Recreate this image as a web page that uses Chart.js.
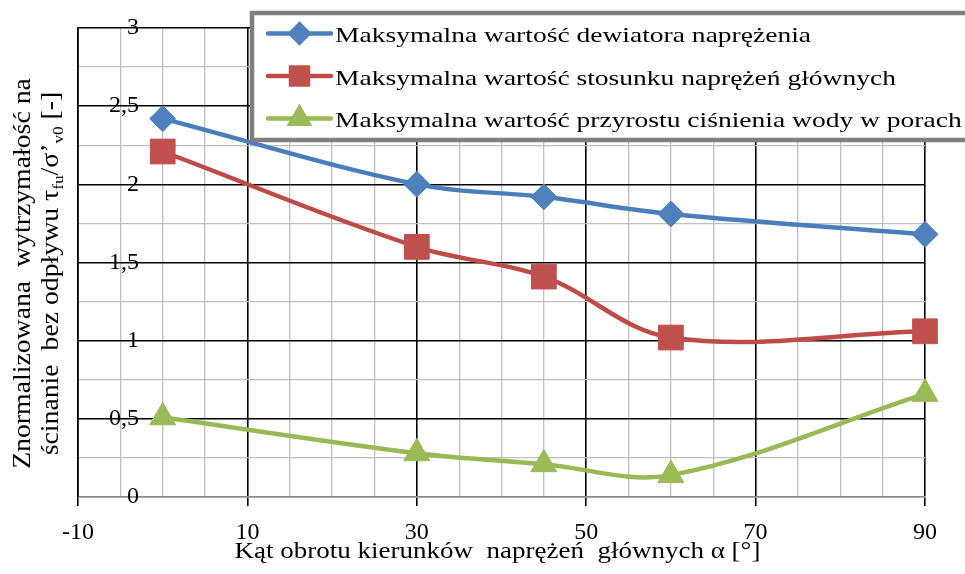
<!DOCTYPE html>
<html>
<head>
<meta charset="utf-8">
<script src="https://cdn.jsdelivr.net/npm/chart.js"></script>
<style>
  body { margin: 0; background: #fff; }
  canvas { display: block; }
</style>
</head>
<body>
<canvas id="myChart" width="965" height="574"></canvas>
<script>
// data
var angles = [0, 30, 45, 60, 90];
var dewiator = [2.42, 2.0, 1.92, 1.81, 1.68];
var stosunek = [2.21, 1.6, 1.41, 1.02, 1.06];
var cisnienie = [0.51, 0.28, 0.21, 0.14, 0.66];
var seriesNames = [
  'Maksymalna wartość dewiatora naprężenia',
  'Maksymalna wartość stosunku naprężeń głównych',
  'Maksymalna wartość przyrostu ciśnienia wody w porach'
];
var xTitle = 'Kąt obrotu kierunków  naprężeń  głównych α [°]';
// y title, second element = subscript
var yTitle1 = [['Znormalizowana  wytrzymałość na', false]];
var yTitle2 = [['ścinanie  bez odpływu τ', false], ['fu', true], ['/σ’', false], ['v0', true], [' [-]', false]];

var FONT = '"Liberation Serif", "Times New Roman", serif';

function toPoints(values) {
  return values.map(function (v, i) { return { x: angles[i], y: v }; });
}

// draws text runs centred on (0,0), baseline at 0, stretched along the text
function drawRuns(ctx, runs, size, stretch) {
  var total = 0;
  runs.forEach(function (r) {
    ctx.font = (r[1] ? size * 0.62 : size) + 'px ' + FONT;
    total += ctx.measureText(r[0]).width;
  });
  ctx.scale(stretch, 1);
  var x = -total / 2;
  ctx.textAlign = 'left';
  ctx.textBaseline = 'alphabetic';
  runs.forEach(function (r) {
    ctx.font = (r[1] ? size * 0.62 : size) + 'px ' + FONT;
    ctx.fillText(r[0], x, r[1] ? size * 0.2 : 0);
    x += ctx.measureText(r[0]).width;
  });
}

var overlay = {
  id: 'overlay',
  afterDraw: function (chart) {
    var ctx = chart.ctx;
    var area = chart.chartArea;
    ctx.save();
    ctx.fillStyle = '#000';

    // x axis title
    ctx.save();
    ctx.translate((area.left + area.right) / 2 - 4, 558);
    drawRuns(ctx, [[xTitle, false]], 22.5, 1.2);
    ctx.restore();

    // y axis title, two lines
    var midY = (area.top + area.bottom) / 2;
    ctx.save();
    ctx.translate(30, midY + 11);
    ctx.rotate(-Math.PI / 2);
    drawRuns(ctx, yTitle1, 25, 1.11);
    ctx.restore();
    ctx.save();
    ctx.translate(58, midY + 11);
    ctx.rotate(-Math.PI / 2);
    drawRuns(ctx, yTitle2, 25, 1.11);
    ctx.restore();

    // legend box on top of the plot
    ctx.fillStyle = '#fff';
    ctx.fillRect(252, 13, 730, 127);
    ctx.strokeStyle = '#7f7f7f';
    ctx.lineWidth = 4.5;
    ctx.strokeRect(252, 13, 730, 127);

    chart.data.datasets.forEach(function (ds, i) {
      var rowY = 33.5 + i * 42.5;
      ctx.strokeStyle = ds.borderColor;
      ctx.lineWidth = 4.5;
      ctx.lineCap = 'round';
      ctx.beginPath();
      ctx.moveTo(268, rowY);
      ctx.lineTo(331, rowY);
      ctx.stroke();
      ctx.fillStyle = ds.pointBackgroundColor;
      ctx.strokeStyle = ds.pointBackgroundColor;
      Chart.helpers.drawPoint(ctx, {
        pointStyle: ds.pointStyle,
        radius: ds.legendRadius,
        rotation: 0,
        borderWidth: 1
      }, 299.5, rowY);
      ctx.fillStyle = '#000';
      ctx.save();
      ctx.translate(335, rowY + 8.5);
      ctx.scale(1.28, 1);
      ctx.font = '21.5px ' + FONT;
      ctx.textAlign = 'left';
      ctx.textBaseline = 'alphabetic';
      ctx.fillText(ds.label, 0, 0);
      ctx.restore();
    });
    ctx.restore();
  }
};

function series(label, values, line, fill, style, radius, legendRadius) {
  return {
    label: label,
    data: toPoints(values),
    borderColor: line,
    backgroundColor: fill,
    borderWidth: 4.5,
    tension: 0.35,
    clip: false,
    pointStyle: style,
    pointRadius: radius,
    pointHoverRadius: radius,
    pointBackgroundColor: fill,
    pointBorderColor: fill,
    pointBorderWidth: 1,
    legendRadius: legendRadius
  };
}

var ctx = document.getElementById('myChart');
var myChart = new Chart(ctx, {
  type: 'line',
  data: {
    datasets: [
      series(seriesNames[0], dewiator, '#4a7ebb', '#4f81bd', 'rectRot', 13, 9),
      series(seriesNames[1], stosunek, '#be4b48', '#c0504d', 'rect', 17.5, 12),
      series(seriesNames[2], cisnienie, '#98b954', '#9bbb59', 'triangle', 15, 10.5)
    ]
  },
  options: {
    responsive: false,
    animation: false,
    layout: { padding: { top: 28, right: 40, left: 0, bottom: 0 } },
    plugins: {
      legend: { display: false },
      tooltip: { enabled: false }
    },
    scales: {
      x: {
        type: 'linear',
        min: -10,
        max: 90,
        afterFit: function (scale) { scale.height = 77; },
        ticks: {
          stepSize: 5,
          autoSkip: false,
          maxRotation: 0,
          padding: 12,
          color: '#000',
          font: { family: FONT, size: 24 },
          callback: function (v) { return (v + 10) % 20 === 0 ? String(v) : ''; }
        },
        grid: {
          color: function (c) { return (c.tick.value + 10) % 20 === 0 ? '#000' : '#bfbfbf'; },
          lineWidth: function (c) { return (c.tick.value + 10) % 20 === 0 ? 1.6 : 1.3; },
          tickColor: function (c) { return (c.tick.value + 10) % 20 === 0 ? '#000' : 'rgba(0,0,0,0)'; },
          tickLength: 9
        },
        border: { color: '#8c8c8c', width: 1.6 }
      },
      y: {
        min: 0,
        max: 3,
        afterFit: function (scale) {
          scale.width = 78;
          // labels sit inside the plot, so no extra room above/below
          scale.paddingTop = 0;
          scale.paddingBottom = 0;
        },
        ticks: {
          stepSize: 0.25,
          mirror: true,
          crossAlign: 'far',
          padding: 31,
          color: '#000',
          font: { family: FONT, size: 24 },
          callback: function (v) { return v % 0.5 === 0 ? String(v).replace('.', ',') : ''; }
        },
        grid: {
          color: function (c) {
            if (c.tick.value === 0) return '#8c8c8c';
            return c.tick.value % 0.5 === 0 ? '#000' : '#bfbfbf';
          },
          lineWidth: function (c) { return c.tick.value % 0.5 === 0 ? 1.6 : 1.3; },
          drawTicks: false
        },
        border: { color: '#000', width: 1.6 }
      }
    }
  },
  plugins: [overlay]
});
</script>
</body>
</html>
